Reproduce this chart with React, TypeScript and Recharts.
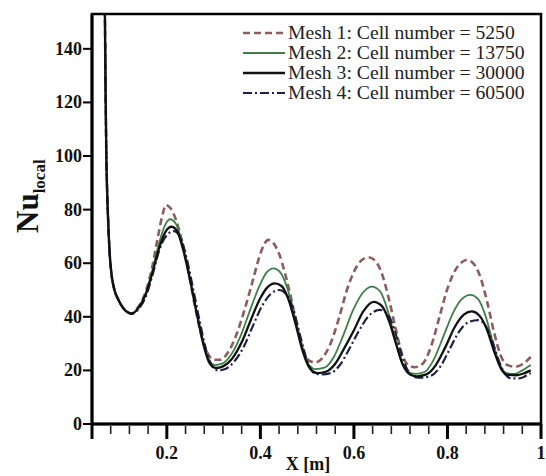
import React from 'react';
import { LineChart, Line, XAxis, YAxis, ReferenceArea, Legend } from 'recharts';

// common inlet part (all meshes coincide here)
const inletX = [0.0675, 0.069, 0.0705, 0.0725, 0.075, 0.078, 0.082, 0.088, 0.096, 0.107, 0.125];
const inletNu = [155, 125, 102, 86, 74, 63, 55.5, 50, 46.5, 43.2, 41.2];

const mesh1X = [0.14, 0.155, 0.168, 0.18, 0.19, 0.198, 0.208, 0.22, 0.232, 0.246, 0.26, 0.274, 0.287, 0.3, 0.314, 0.33, 0.348, 0.366, 0.383, 0.398, 0.408, 0.417, 0.428, 0.44, 0.453, 0.467, 0.48, 0.493, 0.505, 0.517, 0.532, 0.55, 0.568, 0.585, 0.602, 0.617, 0.631, 0.645, 0.66, 0.675, 0.69, 0.703, 0.716, 0.73, 0.747, 0.765, 0.783, 0.8, 0.817, 0.83, 0.841, 0.855, 0.87, 0.885, 0.9, 0.914, 0.928, 0.945, 0.962, 0.978];
const mesh1Nu = [44, 49.5, 58, 69, 77.5, 81.7, 80.5, 76, 68.5, 57, 44, 33, 26.5, 24, 24, 26.5, 33, 42.5, 53, 62.5, 67, 68.7, 67.5, 63.5, 56, 46, 35, 27, 23.5, 23, 24.5, 30, 39.5, 50, 57.5, 61.2, 62.2, 61, 56, 46.5, 35, 26, 22, 21.2, 22.5, 29, 40, 50.5, 57.5, 60.3, 61.2, 60, 55, 45.5, 34, 25.5, 22, 21.4, 22.5, 25];

const mesh2X = [0.14, 0.155, 0.17, 0.185, 0.197, 0.207, 0.22, 0.233, 0.248, 0.263, 0.278, 0.29, 0.303, 0.318, 0.338, 0.358, 0.378, 0.398, 0.413, 0.428, 0.443, 0.458, 0.473, 0.488, 0.502, 0.518, 0.537, 0.557, 0.577, 0.597, 0.617, 0.638, 0.656, 0.672, 0.687, 0.701, 0.716, 0.732, 0.752, 0.772, 0.792, 0.812, 0.83, 0.849, 0.866, 0.882, 0.897, 0.911, 0.926, 0.943, 0.96, 0.978];
const mesh2Nu = [43.5, 48.5, 58, 68.5, 74.5, 76.4, 74.5, 67.5, 55.5, 42, 30, 24, 22, 22.5, 26, 33, 42.5, 51.5, 56.5, 58.1, 56.5, 50.5, 40.5, 30, 22.5, 20.5, 21, 25, 33, 42, 48.5, 51.3, 49.5, 42.5, 32.5, 23.5, 19.5, 18.7, 19.5, 24.5, 33, 41.5, 46.5, 48.2, 46.5, 40, 30.5, 22.5, 19, 18.7, 20, 22];

const mesh3X = [0.14, 0.155, 0.17, 0.185, 0.198, 0.21, 0.222, 0.235, 0.25, 0.265, 0.28, 0.292, 0.305, 0.32, 0.34, 0.36, 0.38, 0.4, 0.415, 0.431, 0.445, 0.46, 0.475, 0.49, 0.505, 0.522, 0.54, 0.56, 0.58, 0.6, 0.62, 0.642, 0.66, 0.675, 0.69, 0.705, 0.72, 0.735, 0.755, 0.775, 0.795, 0.815, 0.835, 0.852, 0.868, 0.885, 0.9, 0.915, 0.93, 0.948, 0.965, 0.978];
const mesh3Nu = [43.5, 48.5, 57, 66.5, 72, 73.6, 72, 65, 53.5, 40.5, 28.5, 22.5, 20.9, 21.5, 24.5, 30.5, 39, 47, 51, 52.5, 51.5, 46.5, 37.5, 27.5, 21, 19, 19.5, 22.5, 28.5, 35, 42, 45.6, 44, 38.5, 30, 22, 18.5, 17.8, 18.5, 22, 28.5, 36, 40.8, 42, 40.5, 35, 27, 20.5, 18.3, 18.2, 19, 20];

const mesh4X = [0.14, 0.155, 0.17, 0.185, 0.2, 0.215, 0.228, 0.24, 0.255, 0.27, 0.285, 0.297, 0.31, 0.325, 0.345, 0.365, 0.385, 0.405, 0.422, 0.44, 0.455, 0.47, 0.485, 0.5, 0.515, 0.53, 0.55, 0.57, 0.59, 0.61, 0.63, 0.655, 0.672, 0.687, 0.7, 0.715, 0.73, 0.745, 0.765, 0.785, 0.805, 0.825, 0.845, 0.866, 0.88, 0.895, 0.908, 0.922, 0.937, 0.953, 0.968, 0.978];
const mesh4Nu = [43, 47.5, 56, 65.5, 70.5, 72, 70, 63.5, 51.5, 38.5, 27, 21.5, 20, 20.5, 23.5, 29, 37, 44.5, 48.5, 50, 48.5, 43, 33, 23.5, 19, 18.5, 19, 22, 28, 34.5, 40, 42.6, 41, 35, 27, 20, 17.5, 17.3, 18, 21.5, 28, 34.5, 38, 38.8, 37, 31.5, 24.5, 19, 17, 17, 18, 19];

const seriesNames = [
  'Mesh 1: Cell number = 5250',
  'Mesh 2: Cell number = 13750',
  'Mesh 3: Cell number = 30000',
  'Mesh 4: Cell number = 60500',
];

const yTicks = [0, 20, 40, 60, 80, 100, 120, 140];
const xMajorTicks = [0.2, 0.4, 0.6, 0.8, 1];
const xTickLabels = ['0.2', '0.4', '0.6', '0.8', '1'];
const xMinorTicks = [0.08, 0.12, 0.16, 0.24, 0.28, 0.32, 0.36, 0.44, 0.48, 0.52, 0.56, 0.64, 0.68, 0.72, 0.76, 0.84, 0.88, 0.92, 0.96];
const xAllTicks = [0.04, ...xMinorTicks, ...xMajorTicks].sort((a, b) => a - b);

const toData = (xs: number[], nus: number[]) =>
  [...inletX, ...xs].map((x, i) => ({ x, nu: [...inletNu, ...nus][i] }));

const SERIF = 'Liberation Serif, DejaVu Serif, serif';
const serifStyle = { fontFamily: SERIF };

const series = [
  { key: 'm1', name: seriesNames[0], data: toData(mesh1X, mesh1Nu), color: '#8c5d5d', width: 2.6, dash: '7 4' },
  { key: 'm2', name: seriesNames[1], data: toData(mesh2X, mesh2Nu), color: '#3f7f47', width: 1.8, dash: undefined },
  { key: 'm4', name: seriesNames[3], data: toData(mesh4X, mesh4Nu), color: '#1e2048', width: 2.2, dash: '9 3 2 3' },
  { key: 'm3', name: seriesNames[2], data: toData(mesh3X, mesh3Nu), color: '#111111', width: 2.3, dash: undefined },
];
const legendOrder = ['m1', 'm2', 'm3', 'm4'];

const XTick = (props: any) => {
  const { x, y, payload } = props;
  const idx = xMajorTicks.findIndex((t) => Math.abs(t - payload.value) < 1e-6);
  const isCorner = Math.abs(payload.value - 0.04) < 1e-6;
  if (idx < 0 && !isCorner) {
    return <line x1={x} x2={x} y1={y + 2} y2={y + 10} stroke="#222" strokeWidth={1.6} />;
  }
  return (
    <g>
      <line x1={x} x2={x} y1={y} y2={y + 15} stroke="#000" strokeWidth={3} />
      {idx >= 0 && (
        <text x={x} y={y + 35} textAnchor="middle" style={serifStyle} fontWeight="bold" fontSize={18} fill="#111">
          {xTickLabels[idx]}
        </text>
      )}
    </g>
  );
};

const YTick = (props: any) => {
  const { x, y, payload } = props;
  return (
    <text x={x} y={y} dy={6} textAnchor="end" style={serifStyle} fontWeight="bold" fontSize={18} fill="#111">
      {payload.value}
    </text>
  );
};

const renderLegend = () => (
  <svg width={306} height={90}>
    {legendOrder.map((k, i) => {
      const s = series.find((d) => d.key === k)!;
      const y = 13 + i * 20;
      return (
        <g key={k}>
          <line x1={5} x2={47} y1={y} y2={y} stroke={s.color} strokeWidth={s.width} strokeDasharray={s.dash} />
          <g transform={`translate(50, ${y + 6}) scale(1.035, 1)`}>
            <text style={serifStyle} fontSize={19} fill="#222">{s.name}</text>
          </g>
        </g>
      );
    })}
  </svg>
);

const renderYLabel = () => (
  <text transform="rotate(-90)" x={-233} y={38} style={serifStyle} fontWeight="bold" fontSize={31} fill="#111">
    Nu
    <tspan fontSize={17} dy={7}>local</tspan>
  </text>
);

const renderXLabel = () => (
  <text x={308} y={470} textAnchor="middle" style={serifStyle} fontWeight="bold" fontSize={18} fill="#111">
    X [m]
  </text>
);

export default function App() {
  return (
    <div style={{ position: 'absolute', left: 0, top: 0, width: 546, height: 476, background: '#fff', fontFamily: SERIF }}>
      <LineChart width={546} height={476} margin={{ top: 14, right: 5, bottom: 0, left: 0 }}>
        <XAxis
          type="number"
          dataKey="x"
          domain={[0.04, 1]}
          ticks={xAllTicks}
          allowDataOverflow
          height={52}
          tickSize={0}
          tickMargin={0}
          tickLine={false}
          tick={XTick}
          interval={0}
          axisLine={{ stroke: '#000', strokeWidth: 3 }}
          label={{ content: renderXLabel }}
        />
        <YAxis
          type="number"
          domain={[0, 153]}
          ticks={yTicks}
          allowDataOverflow
          width={92}
          tickSize={9}
          tickMargin={1}
          interval={0}
          tickLine={{ stroke: '#000', strokeWidth: 2 }}
          axisLine={{ stroke: '#000', strokeWidth: 3 }}
          tick={YTick}
          label={{ content: renderYLabel }}
        />
        <ReferenceArea x1={0.04} x2={1} y1={0} y2={153} fill="none" stroke="#000" strokeWidth={2.5} />
        {series.map((s) => (
          <Line
            key={s.key}
            data={s.data}
            dataKey="nu"
            name={s.name}
            type="monotone"
            stroke={s.color}
            strokeWidth={s.width}
            strokeDasharray={s.dash}
            dot={false}
            activeDot={false}
            isAnimationActive={false}
          />
        ))}
        <Legend
          layout="vertical"
          align="center"
          verticalAlign="middle"
          content={renderLegend}
          wrapperStyle={{ top: 20, left: 238, width: 306, height: 90 }}
        />
      </LineChart>
    </div>
  );
}
